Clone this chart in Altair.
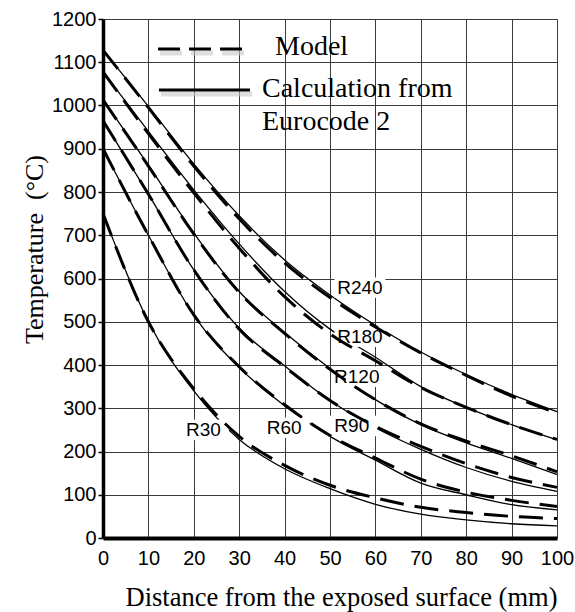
import altair as alt
import pandas as pd

# Distance from the exposed surface (mm)
distance_mm = [0, 10, 20, 30, 40, 50, 60, 70, 80, 90, 100]

# Calculation from Eurocode 2 (solid lines), temperature in °C
ec_r30 = [750, 500, 340, 228, 160, 114, 78, 55, 42, 33, 28]
ec_r60 = [900, 700, 515, 394, 306, 235, 180, 127, 100, 77, 65]
ec_r90 = [965, 795, 620, 485, 398, 318, 255, 205, 163, 131, 108]
ec_r120 = [1013, 862, 705, 570, 475, 392, 320, 262, 220, 184, 147]
ec_r180 = [1078, 940, 805, 680, 570, 483, 418, 350, 302, 262, 227]
ec_r240 = [1128, 998, 865, 745, 643, 562, 492, 430, 378, 332, 292]

# Model (dashed lines), temperature in °C
model_r30 = [750, 500, 345, 235, 168, 122, 93, 71, 59, 50, 45]
model_r60 = [900, 700, 516, 396, 308, 237, 185, 136, 106, 87, 73]
model_r90 = [965, 795, 620, 483, 396, 318, 258, 212, 172, 140, 117]
model_r120 = [1013, 860, 703, 568, 473, 390, 320, 264, 224, 190, 153]
model_r180 = [1078, 935, 798, 670, 558, 472, 410, 348, 302, 262, 228]
model_r240 = [1128, 995, 860, 738, 636, 556, 488, 428, 376, 328, 289]

# Fire-duration labels and where they sit (mm, °C)
label_names = ["R30", "R60", "R90", "R120", "R180", "R240"]
label_x = [22.1, 39.9, 54.8, 55.9, 56.6, 56.6]
label_temp = [250, 255, 259, 373, 465, 579]

series = {
    ("Eurocode 2", "R30"): ec_r30,
    ("Eurocode 2", "R60"): ec_r60,
    ("Eurocode 2", "R90"): ec_r90,
    ("Eurocode 2", "R120"): ec_r120,
    ("Eurocode 2", "R180"): ec_r180,
    ("Eurocode 2", "R240"): ec_r240,
    ("Model", "R30"): model_r30,
    ("Model", "R60"): model_r60,
    ("Model", "R90"): model_r90,
    ("Model", "R120"): model_r120,
    ("Model", "R180"): model_r180,
    ("Model", "R240"): model_r240,
}

rows = []
for (source, case), temps in series.items():
    for d, t in zip(distance_mm, temps):
        rows.append({"source": source, "case": case, "distance": d, "temp": t})
df = pd.DataFrame(rows)

labels_df = pd.DataFrame({"name": label_names, "distance": label_x, "temp": label_temp})
one_row = pd.DataFrame({"k": [0]})

x_scale = alt.Scale(domain=[0, 100], nice=False, zero=False)
y_scale = alt.Scale(domain=[0, 1200], nice=False)

x_axis = alt.Axis(
    values=distance_mm,
    format="d",
    title="Distance from the exposed surface (mm)",
    titleFont="Liberation Serif",
    titleFontSize=26.5,
    titleFontWeight="normal",
    titleColor="black",
    titleX=238,
    titleY=67,
    titleAlign="center",
    titleBaseline="alphabetic",
    labelFont="Liberation Sans",
    labelFontSize=20,
    labelColor="black",
    labelPadding=10,
    labelFlush=False,
    ticks=False,
    domainColor="black",
    domainWidth=4,
    grid=True,
    gridColor="#3a3a3a",
    gridWidth=1,
)

y_axis = alt.Axis(
    values=list(range(0, 1201, 100)),
    format="d",
    title="Temperature \u00a0(°C)",
    titleFont="Liberation Serif",
    titleFontSize=26,
    titleFontWeight="normal",
    titleColor="black",
    titleAngle=270,
    titleX=-60.5,
    titleY=230,
    titleAlign="center",
    titleBaseline="alphabetic",
    labelFont="Liberation Sans",
    labelFontSize=20,
    labelColor="black",
    labelPadding=2,
    labelFlush=False,
    ticks=True,
    tickSize=5,
    tickColor="black",
    tickWidth=1.5,
    domainColor="black",
    domainWidth=3.5,
    grid=True,
    gridColor="#3a3a3a",
    gridWidth=1,
)

X = alt.X("distance:Q", scale=x_scale, axis=x_axis)
Y = alt.Y("temp:Q", scale=y_scale, axis=y_axis)

base = alt.Chart(df)

solid = base.transform_filter(alt.datum.source == "Eurocode 2").mark_line(
    color="black", strokeWidth=1.3, interpolate="monotone"
).encode(x=X, y=Y, detail="case:N")

# white patches behind the duration labels (they interrupt the grid)
label_boxes = alt.Chart(labels_df).mark_point(
    shape="M-1,-0.4H1V0.4H-1Z", filled=True, color="white", opacity=1, size=2600, strokeWidth=0
).encode(x=X, y=Y)

dashed = base.transform_filter(alt.datum.source == "Model").mark_line(
    color="black", strokeWidth=3, strokeDash=[24, 11], interpolate="monotone"
).encode(x=X, y=Y, detail="case:N")

label_text = alt.Chart(labels_df).mark_text(
    font="Liberation Sans", fontSize=19, color="black", align="center", baseline="middle"
).encode(x=X, y=Y, text="name:N")

# in-plot key: soft shadows, dashed and solid samples, and their captions
key_shadow_dash = alt.Chart(one_row).mark_rule(
    color="#c8c8c8", strokeWidth=5, strokeDash=[22, 9], opacity=0.6
).encode(x=alt.value(57), x2=alt.value(142), y=alt.value(34))
key_shadow_solid = alt.Chart(one_row).mark_rule(
    color="#c8c8c8", strokeWidth=5, opacity=0.6
).encode(x=alt.value(58), x2=alt.value(149), y=alt.value(75))
key_dash = alt.Chart(one_row).mark_rule(
    color="black", strokeWidth=3, strokeDash=[22, 9]
).encode(x=alt.value(55), x2=alt.value(140), y=alt.value(30))
key_solid = alt.Chart(one_row).mark_rule(
    color="black", strokeWidth=3
).encode(x=alt.value(56), x2=alt.value(147), y=alt.value(71))

key_font = dict(font="Liberation Serif", fontSize=28, color="black", align="left", baseline="alphabetic")
key_model = alt.Chart(one_row).mark_text(text="Model", **key_font).encode(
    x=alt.value(172), y=alt.value(36)
)
key_calc1 = alt.Chart(one_row).mark_text(text="Calculation from", **key_font).encode(
    x=alt.value(159), y=alt.value(78)
)
key_calc2 = alt.Chart(one_row).mark_text(text="Eurocode 2", **key_font).encode(
    x=alt.value(159), y=alt.value(111)
)

chart = alt.layer(
    solid,
    label_boxes,
    dashed,
    label_text,
    key_shadow_dash,
    key_shadow_solid,
    key_dash,
    key_solid,
    key_model,
    key_calc1,
    key_calc2,
).properties(
    width=454,
    height=519,
    autosize=alt.AutoSizeParams(type="none"),
    padding={"left": 103, "top": 19, "right": 18, "bottom": 74},
    background="white",
).configure_view(stroke=None)

chart.save("out.html", embed_options={"renderer": "svg", "actions": False})
